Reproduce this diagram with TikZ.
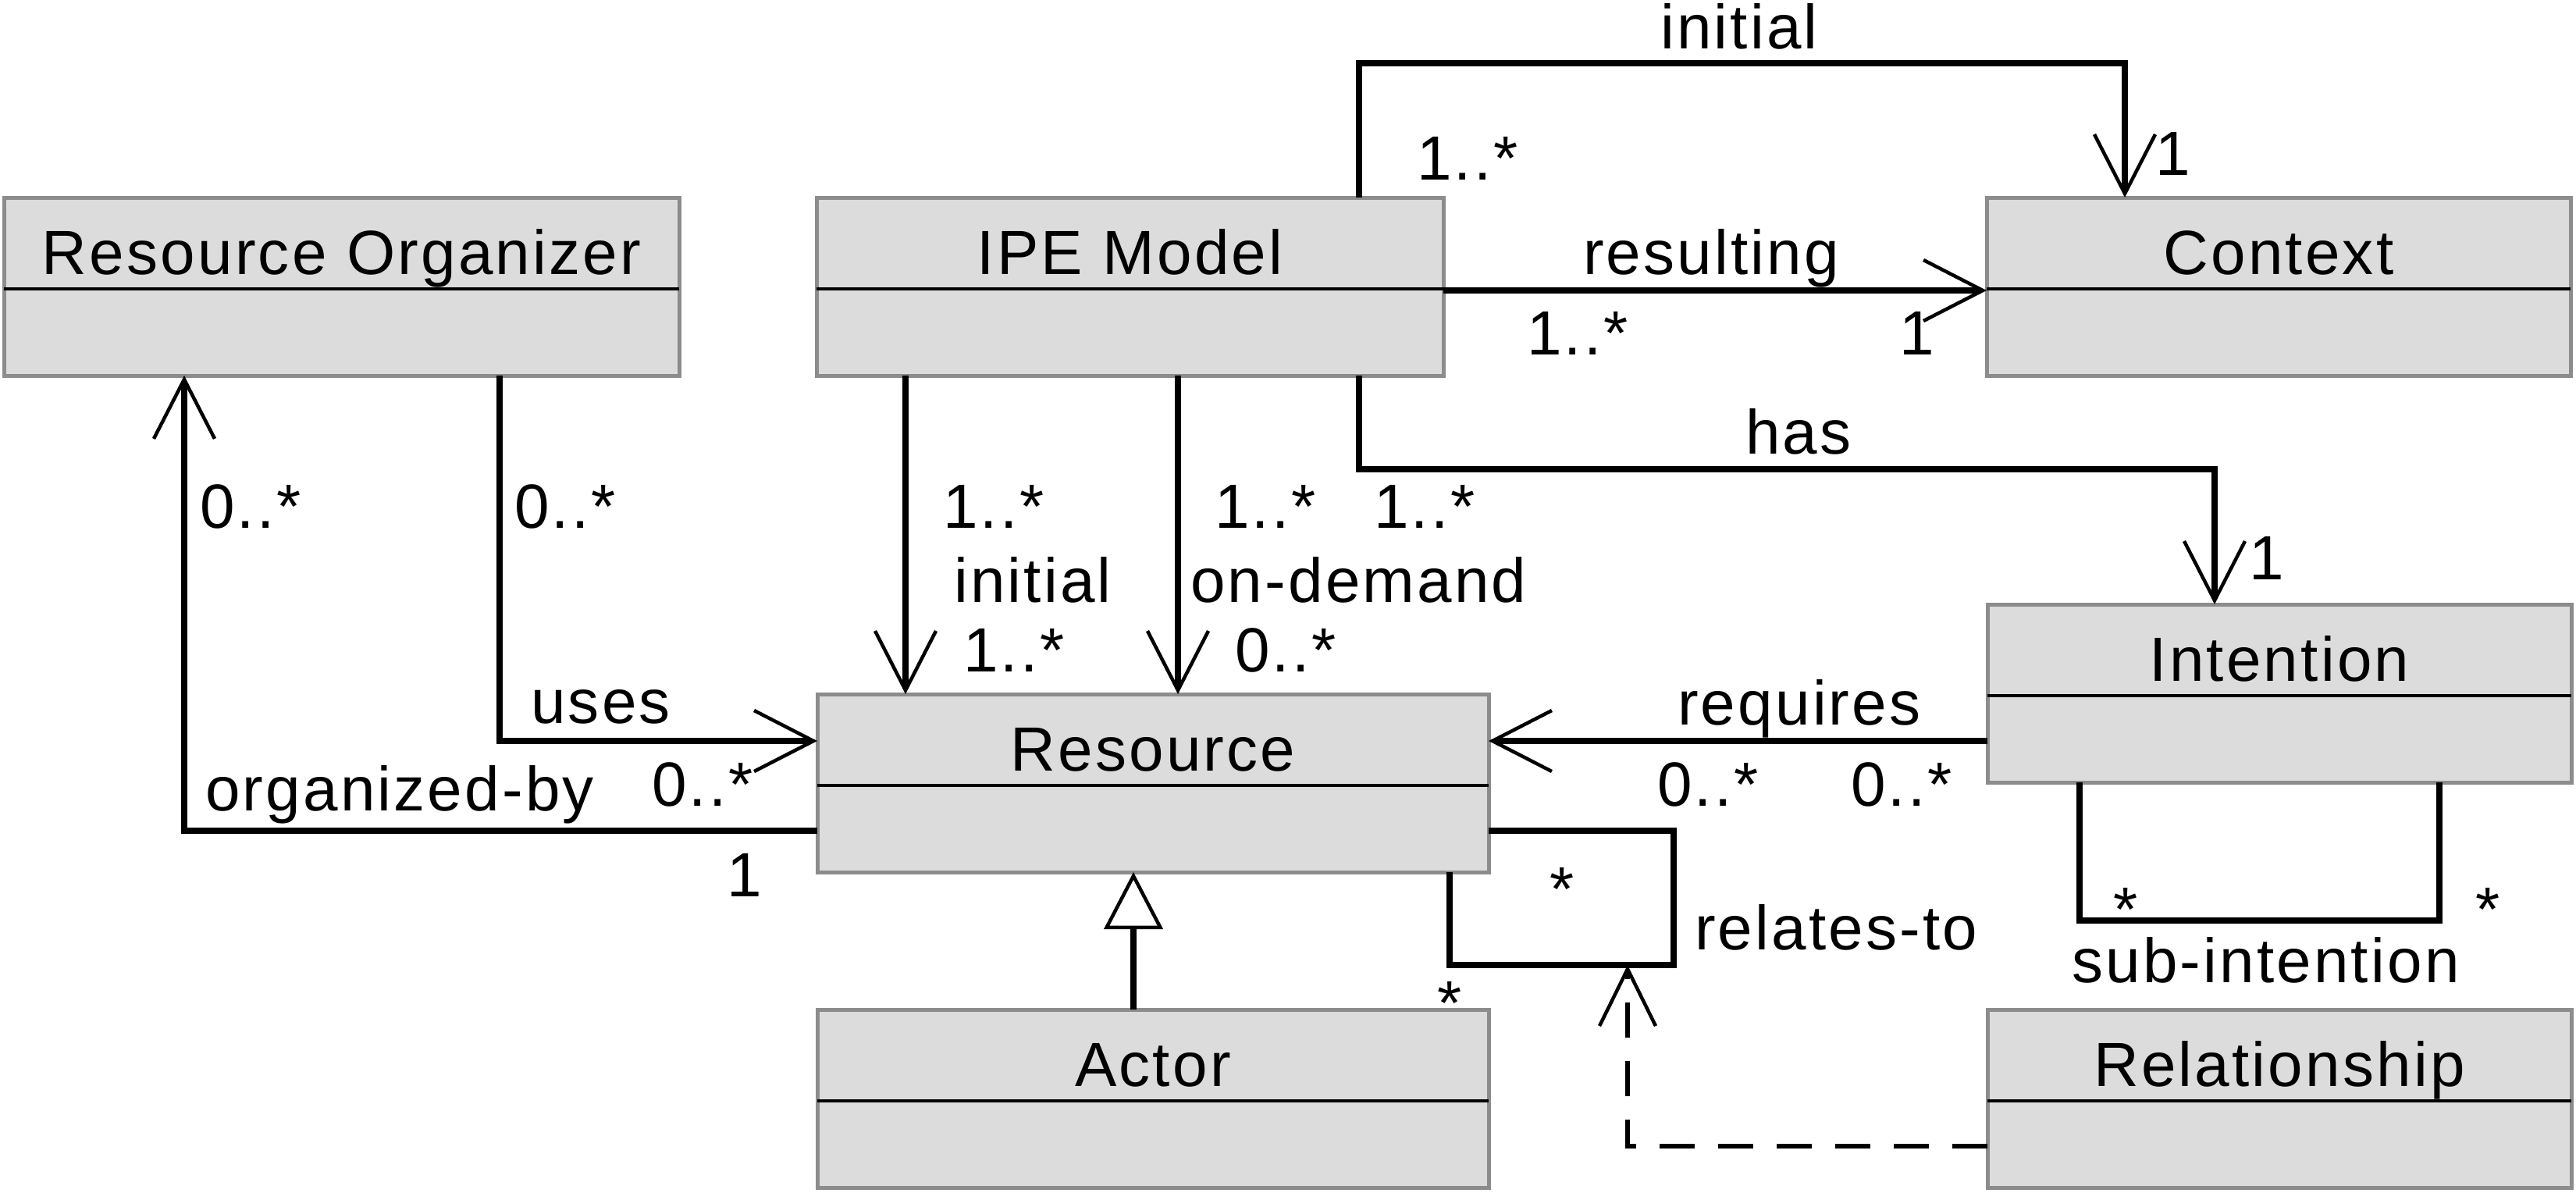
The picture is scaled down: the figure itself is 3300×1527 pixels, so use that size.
\documentclass[tikz,border=0pt]{standalone}
\usepackage{fontspec}
\setmainfont{Liberation Sans}[LetterSpace=4]
\usetikzlibrary{arrows.meta}
\definecolor{boxfill}{RGB}{220,220,220}
\definecolor{boxline}{RGB}{140,140,140}
\newcommand\lblfont{\fontsize{80}{96}\selectfont}
\newcommand\umlclass[5]{%
  \node[cls, minimum width=#4, anchor=north west] (#1) at (#2,#3) {};
  \draw[divider] ([yshift=-117pt]#1.north west) -- ([yshift=-117pt]#1.north east);
  \node[font=\lblfont, inner sep=0pt, anchor=base] (#1-name) at ([yshift=-98pt]#1.north) {#5};
}
\tikzset{
  cls/.style={draw=boxline, fill=boxfill, line width=5pt, inner sep=0pt, outer sep=0pt, minimum height=228pt},
  divider/.style={line width=4pt, black},
  assoc/.style={line width=7.5pt, black},
  nav/.style={assoc, -{Straight Barb[length=76pt, width=78pt, line width=4.5pt]}},
  gen/.style={assoc, -{Triangle[fill=white, length=73pt, width=75pt, line width=4.5pt]}},
  depend/.style={line width=6pt, black, dash pattern=on 45pt off 30pt, -{Straight Barb[length=73pt, width=72pt, line width=4.5pt]}},
  lbl/.style={font=\lblfont, inner sep=0pt, anchor=base west},
}
\begin{document}
\begin{tikzpicture}[x=1pt,y=-1pt]
\useasboundingbox (0,0) rectangle (3300,1527);
\fill[white] (0,0) rectangle (3300,1527);

% classes
\umlclass{ro}{5}{253}{865pt}{Resource Organizer}
\umlclass{ipe}{1046}{253}{803pt}{IPE Model}
\umlclass{ctx}{2545}{253}{748pt}{Context}
\umlclass{res}{1047}{889}{860pt}{Resource}
\umlclass{int}{2546}{774}{748pt}{Intention}
\umlclass{act}{1047}{1293}{860pt}{Actor}
\umlclass{rel}{2546}{1293}{748pt}{Relationship}

% IPE Model -> Context (initial)
\coordinate (ib) at (1741,81);
\draw[nav] (ipe.north -| ib) -- (ib) -| (ctx.north -| 2722,0);
% IPE Model -> Context (resulting)
\draw[nav] (ipe.east |- 0,372) -- (ctx.west |- 0,372);
% IPE Model -> Intention (has)
\coordinate (hb) at (1741,601);
\draw[nav] (ipe.south -| hb) -- (hb) -| (int.north -| 2837,0);
% IPE Model -> Resource (initial, on-demand)
\draw[nav] (ipe.south -| 1160,0) -- (res.north -| 1160,0);
\draw[nav] (ipe.south -| 1509,0) -- (res.north -| 1509,0);
% Resource Organizer -> Resource (uses)
\draw[nav] (ro.south -| 640,0) |- (res.west |- 0,949);
% Resource -> Resource Organizer (organized-by)
\draw[nav] (res.west |- 0,1064) -| (ro.south -| 236,0);
% Intention -> Resource (requires)
\draw[nav] (int.west |- 0,949) -- (res.east |- 0,949);
% Resource self association (relates-to)
\coordinate (lr) at (2144,1236);
\coordinate (lb) at (2085,1236);
\draw[assoc] (res.east |- 0,1064) -| (lr) -| (res.south -| 1857,0);
% Relationship -> association (dashed)
\draw[depend] (rel.west |- 0,1468) -| (lb);
% Intention sub-intention loop
\draw[assoc] (int.south -| 2664,0) |- (3125,1179) -- (int.south -| 3125,0);
% Actor -> Resource generalization
\draw[gen] (act.north -| 1452,0) -- (res.south -| 1452,0);

% labels
\node[lbl] (t1) at (2127,62) {initial};
\node[lbl] (t2) at (1815,230) {1..*};
\node[lbl] (t3) at (2761,224) {1};
\node[lbl] (t4) at (2028,351) {resulting};
\node[lbl] (t5) at (1956,454) {1..*};
\node[lbl] (t6) at (2433,454) {1};
\node[lbl] (t7) at (2236,581) {has};
\node[lbl] (t8) at (2881,742) {1};
\node[lbl] (t9) at (256,676) {0..*};
\node[lbl] (t10) at (659,676) {0..*};
\node[lbl] (t11) at (1208,676) {1..*};
\node[lbl] (t12) at (1556,676) {1..*};
\node[lbl] (t13) at (1760,676) {1..*};
\node[lbl] (t14) at (1222,771) {initial};
\node[lbl] (t15) at (1525,771) {on-demand};
\node[lbl] (t16) at (1234,860) {1..*};
\node[lbl] (t17) at (1582,860) {0..*};
\node[lbl] (t18) at (680,926) {uses};
\node[lbl] (t19) at (263,1038) {organized-by};
\node[lbl] (t20) at (835,1032) {0..*};
\node[lbl] (t21) at (931,1148) {1};
\node[lbl] (t22) at (2149,928) {requires};
\node[lbl] (t23) at (2123,1032) {0..*};
\node[lbl] (t24) at (2371,1032) {0..*};
\node[lbl] (t25) at (1985,1166) {*};
\node[lbl] (t26) at (1841,1312) {*};
\node[lbl] (t27) at (2171,1216) {relates-to};
\node[lbl] (t28) at (2707,1192) {*};
\node[lbl] (t29) at (3171,1192) {*};
\node[lbl] (t30) at (2654,1258) {sub-intention};
\end{tikzpicture}
\end{document}
